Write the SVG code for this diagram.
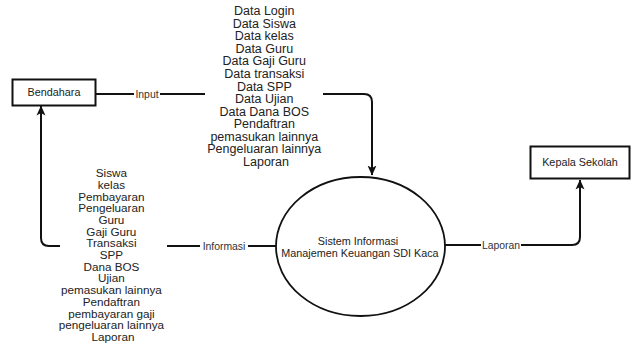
<svg xmlns="http://www.w3.org/2000/svg" width="632" height="345" viewBox="0 0 632 345">
  <style>
    .box { fill: #ffffff; stroke: #111111; stroke-width: 2; }
    .proc { fill: #ffffff; stroke: #111111; stroke-width: 1.8; }
    .edge { fill: none; stroke: #111111; stroke-width: 2; }
    .node-text { font-family: "Liberation Sans", Arial, sans-serif; font-size: 10.8px; fill: #222222; text-anchor: middle; }
    .edge-label { font-family: "Liberation Sans", Arial, sans-serif; font-size: 10.4px; fill: #333333; text-anchor: middle; }
    .flow-list { font-family: "Liberation Sans", Arial, sans-serif; fill: #222222; text-anchor: middle; }
  </style>
  <defs>
    <marker id="arrow" viewBox="0 0 10 10" refX="9.5" refY="5" markerWidth="10" markerHeight="10" markerUnits="userSpaceOnUse" orient="auto">
      <path d="M0,0.5 L10,5 L0,9.5 L2.5,5 Z" fill="#111111"/>
    </marker>
  </defs>

  <rect width="632" height="345" fill="#ffffff"/>

  <!-- connectors -->
  <g id="connectors">
    <!-- Bendahara to system (Input) -->
    <path class="edge" d="M96 94 H205"/>
    <path class="edge" d="M323 94 H364 Q372 94 372 102 V175" marker-end="url(#arrow)"/>
    <!-- system to Bendahara (Informasi) -->
    <path class="edge" d="M276 246 H167"/>
    <path class="edge" d="M60 246 H49 Q41 246 41 238 V106" marker-end="url(#arrow)"/>
    <!-- system to Kepala Sekolah (Laporan) -->
    <path class="edge" d="M445 245 H572 Q580 245 580 237 V180" marker-end="url(#arrow)"/>

    <!-- edge labels -->
    <rect x="134" y="88" width="26" height="12" fill="#ffffff"/>
    <text class="edge-label" x="147" y="97.6">Input</text>
    <rect x="200" y="240" width="48" height="12" fill="#ffffff"/>
    <text class="edge-label" x="224" y="249.6">Informasi</text>
    <rect x="481" y="239" width="40" height="12" fill="#ffffff"/>
    <text class="edge-label" x="501" y="248.6">Laporan</text>

    <!-- data flowing in -->
    <text class="flow-list" font-size="12.5" x="266" y="15.2">
      <tspan x="266">Data Login</tspan>
      <tspan x="266" dy="12.55">Data Siswa</tspan>
      <tspan x="266" dy="12.55">Data kelas</tspan>
      <tspan x="266" dy="12.55">Data Guru</tspan>
      <tspan x="266" dy="12.55">Data Gaji Guru</tspan>
      <tspan x="266" dy="12.55">Data transaksi</tspan>
      <tspan x="266" dy="12.55">Data SPP</tspan>
      <tspan x="266" dy="12.55">Data Ujian</tspan>
      <tspan x="266" dy="12.55">Data Dana BOS</tspan>
      <tspan x="266" dy="12.55">Pendaftran</tspan>
      <tspan x="266" dy="12.55">pemasukan lainnya</tspan>
      <tspan x="266" dy="12.55">Pengeluaran lainnya</tspan>
      <tspan x="266" dy="12.55">Laporan</tspan>
    </text>

    <!-- information flowing out -->
    <text class="flow-list" font-size="11.7" x="113" y="177.1">
      <tspan x="113">Siswa</tspan>
      <tspan x="113" dy="11.7">kelas</tspan>
      <tspan x="113" dy="11.7">Pembayaran</tspan>
      <tspan x="113" dy="11.7">Pengeluaran</tspan>
      <tspan x="113" dy="11.7">Guru</tspan>
      <tspan x="113" dy="11.7">Gaji Guru</tspan>
      <tspan x="113" dy="11.7">Transaksi</tspan>
      <tspan x="113" dy="11.7">SPP</tspan>
      <tspan x="113" dy="11.7">Dana BOS</tspan>
      <tspan x="113" dy="11.7">Ujian</tspan>
      <tspan x="113" dy="11.7">pemasukan lainnya</tspan>
      <tspan x="113" dy="11.7">Pendaftran</tspan>
      <tspan x="113" dy="11.7">pembayaran gaji</tspan>
      <tspan x="113" dy="11.7">pengeluaran lainnya</tspan>
      <tspan x="113" dy="11.7">Laporan</tspan>
    </text>
  </g>

  <!-- external entity -->
  <g id="bendahara">
    <rect class="box" x="12.5" y="79.5" width="83" height="26"/>
    <text class="node-text" x="54" y="96.3">Bendahara</text>
  </g>

  <!-- external entity -->
  <g id="kepala-sekolah">
    <rect class="box" x="530.5" y="146.5" width="99" height="32"/>
    <text class="node-text" x="580" y="166.3">Kepala Sekolah</text>
  </g>

  <!-- process -->
  <g id="sistem-informasi">
    <ellipse class="proc" cx="360.5" cy="246.5" rx="84.5" ry="69.5"/>
    <text class="node-text" x="358" y="244.8">Sistem Informasi</text>
    <text class="node-text" x="360" y="256.8">Manajemen Keuangan SDI Kaca</text>
  </g>
</svg>
